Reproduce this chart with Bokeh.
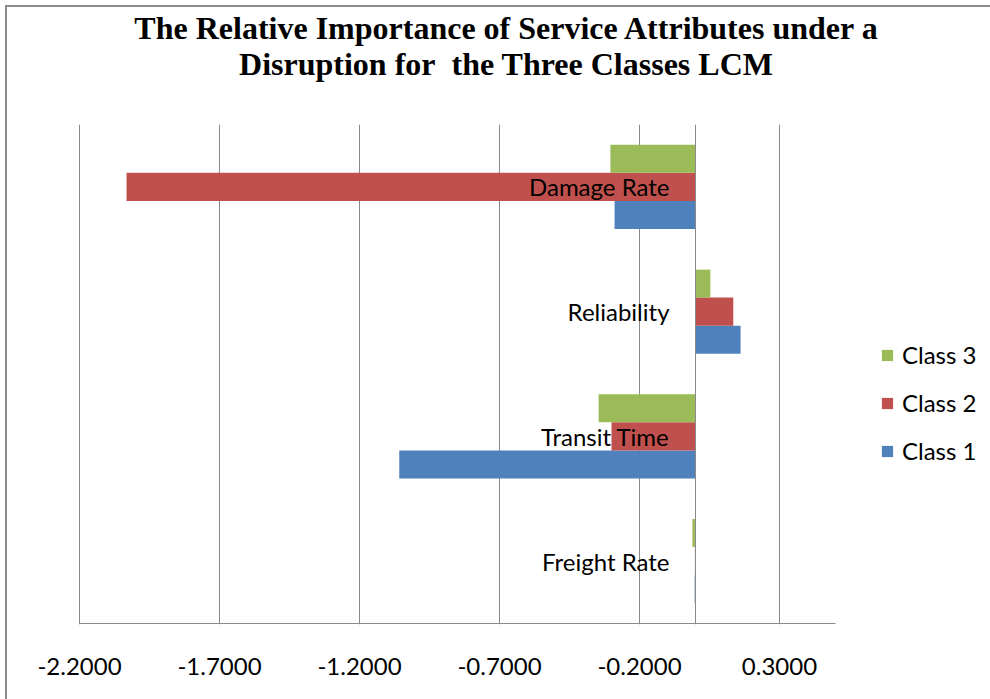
from bokeh.plotting import figure
from bokeh.layouts import column
from bokeh.models import (FixedTicker, PrintfTickFormatter, Span, Legend, Div,
                          LegendItem, ColumnDataSource)
from bokeh.core.properties import value
from bokeh.embed import file_html
from bokeh.resources import INLINE

# Attributes, listed bottom to top as drawn on the vertical axis
attributes = ["Freight Rate", "Transit Time", "Reliability", "Damage Rate"]
class_1 = [-0.003, -1.058, 0.161, -0.289]
class_2 = [-0.002, -0.300, 0.135, -2.032]
class_3 = [-0.011, -0.346, 0.053, -0.304]
x_ticks = [-2.2, -1.7, -1.2, -0.7, -0.2, 0.3]
axis_min, axis_max = -2.2, 0.5
title_lines = ["The Relative Importance of Service Attributes under a",
               "Disruption for\u00a0 the Three Classes LCM"]

series = [("Class 1", class_1, "#4F81BD", -1),
          ("Class 2", class_2, "#C0504D", 0),
          ("Class 3", class_3, "#9BBB59", 1)]

LABEL_FONT = "Lato"
LABEL_SIZE = "24px"
GRID = "#8a8a8a"
bar_h = 0.2245
pos = list(range(len(attributes)))

# chart title, two centred lines
title = Div(text="<br>".join(title_lines), width=983, height=117, margin=0,
            styles={"font-family": "'Liberation Serif', 'Times New Roman', serif",
                    "font-weight": "bold", "font-size": "32px", "line-height": "36px",
                    "text-align": "center", "color": "black", "padding-top": "3px",
                    "padding-left": "15px", "box-sizing": "border-box",
                    "width": "983px", "background": "white"})

# 280 px per unit; a pixel of slack so the first gridline stays visible,
# and extra room on the right for the legend
px = 1 / 280.0
p = figure(width=983, height=575, output_backend="svg", toolbar_location=None,
           x_range=(axis_min - px, axis_min - px + 902 * px),
           y_range=(-0.508, len(attributes) - 0.5),
           min_border_left=71, min_border_right=10, min_border_top=0,
           min_border_bottom=75, margin=0)
p.outline_line_color = None
p.background_fill_color = "white"
p.border_fill_color = "white"

# vertical gridlines and the zero axis
p.xgrid.ticker = FixedTicker(ticks=x_ticks)
p.xgrid.grid_line_color = GRID
p.xgrid.grid_line_width = 1
p.ygrid.grid_line_color = None
p.add_layout(Span(location=0, dimension="height", line_color=GRID, line_width=1))

renderers = {}
for name, vals, color, k in series:
    src = ColumnDataSource(dict(y=[i + k * bar_h for i in pos], right=vals))
    r = p.hbar(y="y", left=0, right="right", height=bar_h, source=src,
               fill_color=color, line_color=None)
    renderers[name] = r

# horizontal value axis line, spanning only the value range
p.segment(x0=[axis_min], x1=[axis_max], y0=[-0.5], y1=[-0.5],
          line_color=GRID, line_width=1)

# category labels sit next to the zero axis
p.text(x=[0] * len(attributes), y=pos, text=attributes, x_offset=-26,
       text_align="right", text_baseline="middle", text_font=value(LABEL_FONT),
       text_font_size=LABEL_SIZE, text_color="black")

p.yaxis.visible = False
ax = p.xaxis[0]
ax.ticker = FixedTicker(ticks=x_ticks)
ax.formatter = PrintfTickFormatter(format="%.4f")
ax.axis_line_color = None
ax.major_tick_line_color = None
ax.minor_tick_line_color = None
ax.major_label_standoff = 27
ax.major_label_text_font = LABEL_FONT
ax.major_label_text_font_size = LABEL_SIZE
ax.major_label_text_color = "black"

legend = Legend(items=[LegendItem(label=n, renderers=[renderers[n]])
                       for n in ["Class 3", "Class 2", "Class 1"]],
                location=(802, 159), border_line_color=None, background_fill_alpha=0,
                glyph_width=14, glyph_height=14, label_height=24, spacing=19,
                padding=0, margin=0, label_standoff=8,
                label_text_font=LABEL_FONT, label_text_font_size=LABEL_SIZE,
                label_text_color="black")
p.add_layout(legend, "center")

# chart area with its grey frame line on the top and left
layout = column(title, p, spacing=0, margin=0,
                styles={"margin-left": "5px", "margin-top": "5px",
                        "border-left": "2px solid #8c8c8c",
                        "border-top": "2px solid #8c8c8c",
                        "background": "white"})

open("out.html", "w").write(file_html(layout, INLINE))
